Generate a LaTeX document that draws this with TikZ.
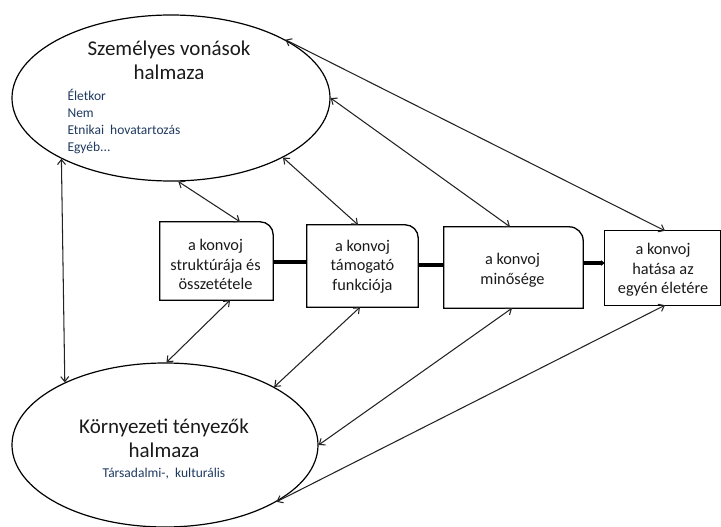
\documentclass[tikz,border=0pt]{standalone}
\usepackage{fontspec}
\setmainfont{Carlito}
\usetikzlibrary{arrows.meta,shapes.geometric}
\definecolor{txt}{HTML}{1A1A1A}
\definecolor{subtxt}{HTML}{1F3A60}
\definecolor{ln}{HTML}{222222}
\tikzset{
  ell/.style={ellipse, draw=black, line width=1.2pt, inner sep=0pt},
  kbox/.style={draw=none, inner sep=0pt},
  ktext/.style={inner sep=0pt, align=center, text=txt, font=\fontsize{16.3}{19.5}\selectfont},
  boxline/.style={draw=black, line width=1.3pt, line join=miter},
  link/.style={draw=ln, line width=1.05pt, {Straight Barb[length=5pt,width=8pt]}-{Straight Barb[length=5pt,width=8pt]}},
  chain/.style={draw=black, line width=3.2pt},
  ttl/.style={text=txt, font=\fontsize{21}{24}\selectfont, align=center},
  sub/.style={text=subtxt, font=\fontsize{13.5}{17}\selectfont, align=left},
}
\begin{document}
\begin{tikzpicture}[x=1pt,y=-1pt]
\useasboundingbox (0,0) rectangle (721,527);
% ellipses
\node[ell, minimum width=318pt, minimum height=166pt] (top) at (171,98) {};
\node[ell, minimum width=306pt, minimum height=164pt] (bot) at (165,445) {};
\node[ttl, anchor=base] (toptitle) at (169,80) {Személyes vonások\\halmaza};
\node[sub, anchor=base west] (toplist) at (64,151) {Életkor\\Nem\\Etnikai\ \ hovatartozás\\Egyéb...};
\node[ttl, anchor=base] (bottitle) at (164,457) {Környezeti tényezők\\halmaza};
\node[sub, anchor=base, align=center] (botsub) at (164,477) {Társadalmi-,\ \ kulturális};
% boxes
\node[kbox, minimum width=113pt, minimum height=78pt] (b1) at (216.5,261) {};
\node[kbox, minimum width=111pt, minimum height=82pt] (b2) at (362.5,266) {};
\node[kbox, minimum width=139pt, minimum height=81pt] (b3) at (513.5,267.5) {};
\node[kbox, minimum width=115pt, minimum height=74pt] (b4) at (662.5,268) {};
\node[ktext] (t1) at (215.5,264.5) {a konvoj\\struktúrája és\\összetétele};
\node[ktext] (t2) at (362.5,266.5) {a konvoj\\támogató\\funkciója};
\node[ktext] (t3) at (512.5,270) {a konvoj\\minősége};
\node[ktext] (t4) at (663,270) {a konvoj\\hatása az\\egyén életére};
\foreach \b/\r in {b1/13,b2/13,b3/14}{
  \draw[boxline] (\b.south west) -- (\b.north west) -- ([xshift=-\r pt]\b.north east)
    to[out=0,in=90] ([yshift=-\r pt]\b.north east) -- (\b.south east) -- cycle;
}
\draw[boxline] (b4.south west) rectangle (b4.north east);
% chain connectors
\draw[chain] ([yshift=-1pt]b1.east) -- ([yshift=-1pt]b1.east -| b2.west);
\draw[chain] ([yshift=1pt]b2.east) -- ([yshift=1pt]b2.east -| b3.west);
\draw[chain, -{Stealth[length=4pt,width=6pt]}] ([yshift=4.5pt]b3.east) -- ([yshift=4.5pt]b3.east -| b4.west);
% links top ellipse
\draw[link] (top.-85) -- ([xshift=23.5pt]b1.north);
\draw[link] (top.-28) -- ([xshift=-4.5pt]b2.north);
\draw[link] (top.0) -- ([xshift=-3.5pt]b3.north);
\draw[link] (top.27) -- ([xshift=2.5pt]b4.north);
\draw[link] (top.209) -- (bot.148);
% links bottom ellipse
\draw[link] ([xshift=13.5pt]b1.south) -- (bot.89);
\draw[link] ([xshift=-2.5pt]b2.south) -- (bot.28.5);
\draw[link] ([xshift=-1.5pt]b3.south) -- (bot.0);
\draw[link] ([xshift=2.5pt]b4.south) -- (bot.-27);
\end{tikzpicture}
\end{document}
